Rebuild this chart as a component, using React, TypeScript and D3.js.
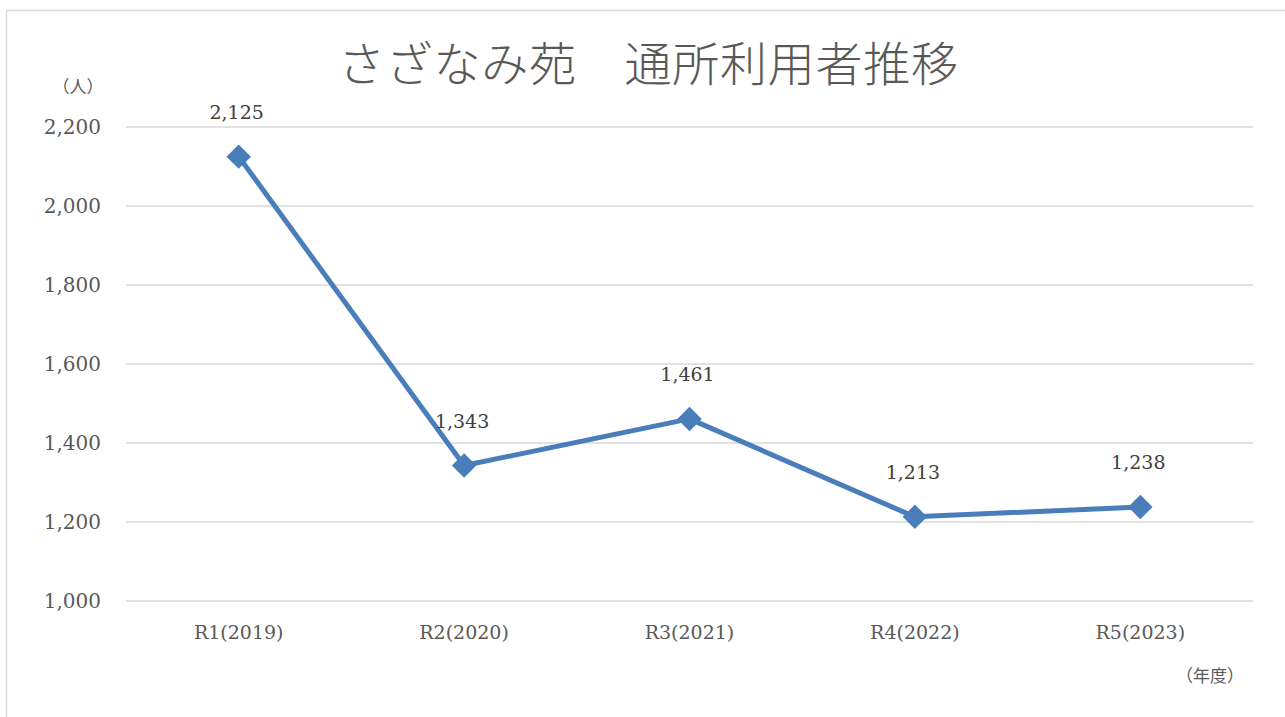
import React, { useRef, useEffect } from "react";
import * as d3 from "d3";

const categories = ["R1(2019)", "R2(2020)", "R3(2021)", "R4(2022)", "R5(2023)"];
const users = [2125, 1343, 1461, 1213, 1238];
const yTicks = [1000, 1200, 1400, 1600, 1800, 2000, 2200];
const title = "さざなみ苑　通所利用者推移";
const yUnit = "（人）";
const xUnit = "（年度）";

export default function App() {
  const svgRef = useRef<SVGSVGElement>(null);

  useEffect(() => {
    const W = 1285,
      H = 717;
    const left = 126,
      right = 1253,
      top = 127,
      bottom = 601;
    const serif = "'DejaVu Serif', 'Liberation Serif', serif";
    const jp = "'Noto Sans CJK JP', sans-serif";
    const grey = "#595959";
    const blue = "#4a7ebb";

    const svg = d3.select(svgRef.current);
    svg.selectAll("*").remove();

    svg.append("rect").attr("width", W).attr("height", H).attr("fill", "white");
    svg
      .append("rect")
      .attr("x", 6.5)
      .attr("y", 10.5)
      .attr("width", W + 20)
      .attr("height", H + 20)
      .attr("fill", "none")
      .attr("stroke", "#d9d9d9")
      .attr("stroke-width", 1.5);

    svg
      .append("text")
      .attr("x", 648)
      .attr("y", 81)
      .attr("text-anchor", "middle")
      .style("font-family", jp)
      .style("font-size", "47px")
      .style("font-weight", 300)
      .attr("fill", grey)
      .attr("textLength", 620)
      .text(title);

    const x = d3.scaleBand<string>().domain(categories).range([left, right]);
    const y = d3.scaleLinear().domain([1000, 2200]).range([bottom, top]);

    // grid
    svg
      .append("g")
      .selectAll("line")
      .data(yTicks)
      .join("line")
      .attr("x1", left)
      .attr("x2", right)
      .attr("y1", (d) => y(d))
      .attr("y2", (d) => y(d))
      .attr("stroke", "#d9d9d9")
      .attr("stroke-width", 1.5);

    svg
      .append("g")
      .selectAll("text")
      .data(yTicks)
      .join("text")
      .attr("x", 101)
      .attr("y", (d) => y(d) + 7)
      .attr("text-anchor", "end")
      .style("font-family", serif)
      .style("font-size", "20px")
      .attr("fill", grey)
      .text((d) => d3.format(",")(d));

    svg
      .append("g")
      .selectAll("text")
      .data(categories)
      .join("text")
      .attr("x", (d) => x(d)! + x.bandwidth() / 2)
      .attr("y", 639)
      .attr("text-anchor", "middle")
      .style("font-family", serif)
      .style("font-size", "19px")
      .attr("fill", grey)
      .text((d) => d);

    svg
      .append("text")
      .attr("x", 78)
      .attr("y", 93)
      .attr("text-anchor", "middle")
      .style("font-family", jp)
      .style("font-size", "17px")
      .attr("fill", grey)
      .text(yUnit);

    svg
      .append("text")
      .attr("x", 1210)
      .attr("y", 682)
      .attr("text-anchor", "middle")
      .style("font-family", jp)
      .style("font-size", "17px")
      .attr("fill", grey)
      .text(xUnit);

    const cx = (i: number) => x(categories[i])! + x.bandwidth() / 2;

    const line = d3
      .line<number>()
      .x((_, i) => cx(i))
      .y((d) => y(d));

    svg
      .append("path")
      .datum(users)
      .attr("fill", "none")
      .attr("stroke", blue)
      .attr("stroke-width", 5)
      .attr("stroke-linejoin", "round")
      .attr("d", line);

    const diamond = d3.symbol().type(d3.symbolSquare).size(300);
    svg
      .append("g")
      .selectAll("path")
      .data(users)
      .join("path")
      .attr("d", diamond)
      .attr("transform", (d, i) => `translate(${cx(i)},${y(d)}) rotate(45)`)
      .attr("fill", blue);

    svg
      .append("g")
      .selectAll("text")
      .data(users)
      .join("text")
      .attr("x", (d, i) => cx(i) - 2)
      .attr("y", (d) => y(d) - 38)
      .attr("text-anchor", "middle")
      .style("font-family", serif)
      .style("font-size", "19px")
      .attr("fill", "#404040")
      .text((d) => d3.format(",")(d));
  }, []);

  return (
    <svg
      ref={svgRef}
      width={1285}
      height={717}
      style={{ position: "absolute", left: 0, top: 0 }}
    ></svg>
  );
}
